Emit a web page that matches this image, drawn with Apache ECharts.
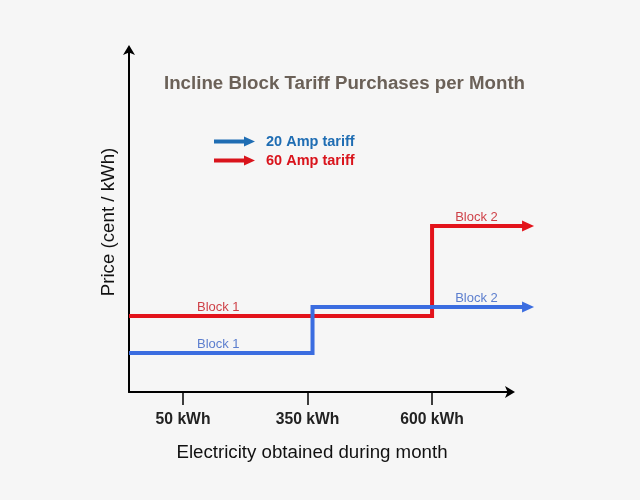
<!DOCTYPE html>
<html>
<head>
<meta charset="utf-8">
<script src="https://cdn.jsdelivr.net/npm/echarts@6/dist/echarts.min.js"></script>
<style>
html,body{margin:0;padding:0;background:#f6f6f6;}
#chart{width:640px;height:500px;}
</style>
</head>
<body>
<div id="chart"></div>
<script>
// ---- data (schematic positions) ----
const xTickLabels = ['50 kWh', '350 kWh', '600 kWh'];
const xTickPos = [1, 2, 3];          // schematic position of each kWh threshold
const xStart = 0.566;                 // axis origin
const xAxisEnd = 3.634;               // end of drawn x-axis
const xLineEnd = 3.771;               // where tariff arrows end

const seriesNames = ['20 Amp tariff', '60 Amp tariff'];
const blockNames = ['Block 1', 'Block 2'];
const blueBreak = 2.04;               // step near 350 kWh (as drawn)
const blueBlocks = [3.9, 8.5];        // schematic price levels
const redBreak = 3.0;                 // step at 600 kWh
const redBlocks = [7.6, 16.6];
const yMax = 34.4;

const lineBlue = '#3b6de0';
const lineRed = '#e3131b';
const legendBlue = '#1f6db3';
const legendRed = '#d9141c';
const textBlue = '#3660c4';
const textRed = '#c4121a';

// layout
const gLeft = 129, gTop = 48, gBottom = 108, gRight = 129;
const pxPerUnit = (640 - gLeft - gRight) / (xAxisEnd - xStart);
const gRight2 = 640 - gLeft - (xLineEnd - xStart) * pxPerUnit;

function stepData(brk, blocks) {
  return [
    { value: [xStart, blocks[0]] },
    { value: [brk, blocks[1]] },
    { value: [xLineEnd, blocks[1]], symbol: 'triangle', symbolRotate: -90, symbolSize: [11, 12] }
  ];
}
function labelData(blocks) {
  return [
    { value: [(xStart + xTickPos[1]) / 2, blocks[0]], name: blockNames[0] },
    { value: [(xTickPos[2] + xAxisEnd) / 2 + 0.04, blocks[1]], name: blockNames[1] }
  ];
}

const chart = echarts.init(document.getElementById('chart'));
const arrowIcon = 'path://M0,3 L30,3 L30,0 L41,5 L30,10 L30,7 L0,7 Z';
const font = 'Liberation Sans';

chart.setOption({
  backgroundColor: '#f6f6f6',
  animation: false,
  title: {
    text: 'Incline Block Tariff Purchases per Month',
    left: 164, top: 74, padding: 0,
    textStyle: { fontFamily: font, fontSize: 18.7, fontWeight: 'bold', color: '#6b6158' }
  },
  legend: {
    orient: 'vertical', left: 214, top: 134, itemWidth: 41, itemHeight: 11, itemGap: 4,
    padding: 0,
    data: [
      { name: seriesNames[0], icon: arrowIcon, itemStyle: { color: legendBlue, borderWidth: 0 }, textStyle: { color: legendBlue } },
      { name: seriesNames[1], icon: arrowIcon, itemStyle: { color: legendRed, borderWidth: 0 }, textStyle: { color: legendRed } }
    ],
    textStyle: { fontFamily: font, fontSize: 14.5, fontWeight: 'bold', padding: [0, 0, 0, 6] }
  },
  grid: [
    { left: gLeft, right: gRight, top: gTop, bottom: gBottom, containLabel: false },
    { left: gLeft, right: gRight2, top: gTop, bottom: gBottom, containLabel: false }
  ],
  xAxis: [
    {
      type: 'value', min: xStart, max: xAxisEnd, gridIndex: 0,
      splitLine: { show: false },
      axisLine: { show: true, lineStyle: { color: '#000', width: 2 }, symbol: ['none', 'arrow'], symbolSize: [9, 10], symbolOffset: [0, 4] },
      axisTick: { show: true, length: 13, lineStyle: { color: '#000', width: 1.5 }, customValues: xTickPos },
      axisLabel: {
        margin: 20, customValues: xTickPos,
        formatter: v => xTickLabels[xTickPos.indexOf(v)] || '',
        fontFamily: font, fontSize: 15.7, fontWeight: 'bold', color: '#222'
      },
      name: 'Electricity obtained during month', nameLocation: 'middle', nameGap: 51,
      nameTextStyle: { fontFamily: font, fontSize: 18.7, color: '#111', padding: [0, 16, 0, 0] }
    },
    {
      type: 'value', min: xStart, max: xLineEnd, gridIndex: 1, show: false,
      splitLine: { show: false }
    }
  ],
  yAxis: [
    {
      type: 'value', min: 0, max: yMax, gridIndex: 0,
      splitLine: { show: false }, axisTick: { show: false }, axisLabel: { show: false },
      axisLine: { show: true, lineStyle: { color: '#000', width: 2 }, symbol: ['none', 'arrow'], symbolSize: [9, 10], symbolOffset: [0, 3] },
      name: 'Price (cent / kWh)', nameLocation: 'middle', nameGap: 11,
      nameTextStyle: { fontFamily: font, fontSize: 18.7, color: '#111', padding: [0, 4, 0, 0] }
    },
    {
      type: 'value', min: 0, max: yMax, gridIndex: 1, show: false,
      splitLine: { show: false }
    }
  ],
  series: [
    {
      name: seriesNames[0], type: 'line', step: 'end', clip: false,
      xAxisIndex: 1, yAxisIndex: 1,
      symbol: 'none', showSymbol: true, color: lineBlue,
      lineStyle: { color: lineBlue, width: 4, join: 'miter', cap: 'butt' },
      itemStyle: { color: lineBlue },
      data: stepData(blueBreak, blueBlocks), z: 3
    },
    {
      name: seriesNames[1], type: 'line', step: 'end', clip: false,
      xAxisIndex: 1, yAxisIndex: 1,
      symbol: 'none', showSymbol: true, color: lineRed,
      lineStyle: { color: lineRed, width: 4, join: 'miter', cap: 'butt' },
      itemStyle: { color: lineRed },
      data: stepData(redBreak, redBlocks), z: 2
    },
    {
      type: 'scatter', symbolSize: 0, clip: false, silent: true,
      xAxisIndex: 1, yAxisIndex: 1,
      label: { show: true, position: 'top', distance: 2, formatter: p => p.name,
        fontFamily: font, fontSize: 13, color: textBlue },
      data: labelData(blueBlocks)
    },
    {
      type: 'scatter', symbolSize: 0, clip: false, silent: true,
      xAxisIndex: 1, yAxisIndex: 1,
      label: { show: true, position: 'top', distance: 2, formatter: p => p.name,
        fontFamily: font, fontSize: 13, color: textRed },
      data: labelData(redBlocks)
    }
  ]
});
</script>
</body>
</html>
